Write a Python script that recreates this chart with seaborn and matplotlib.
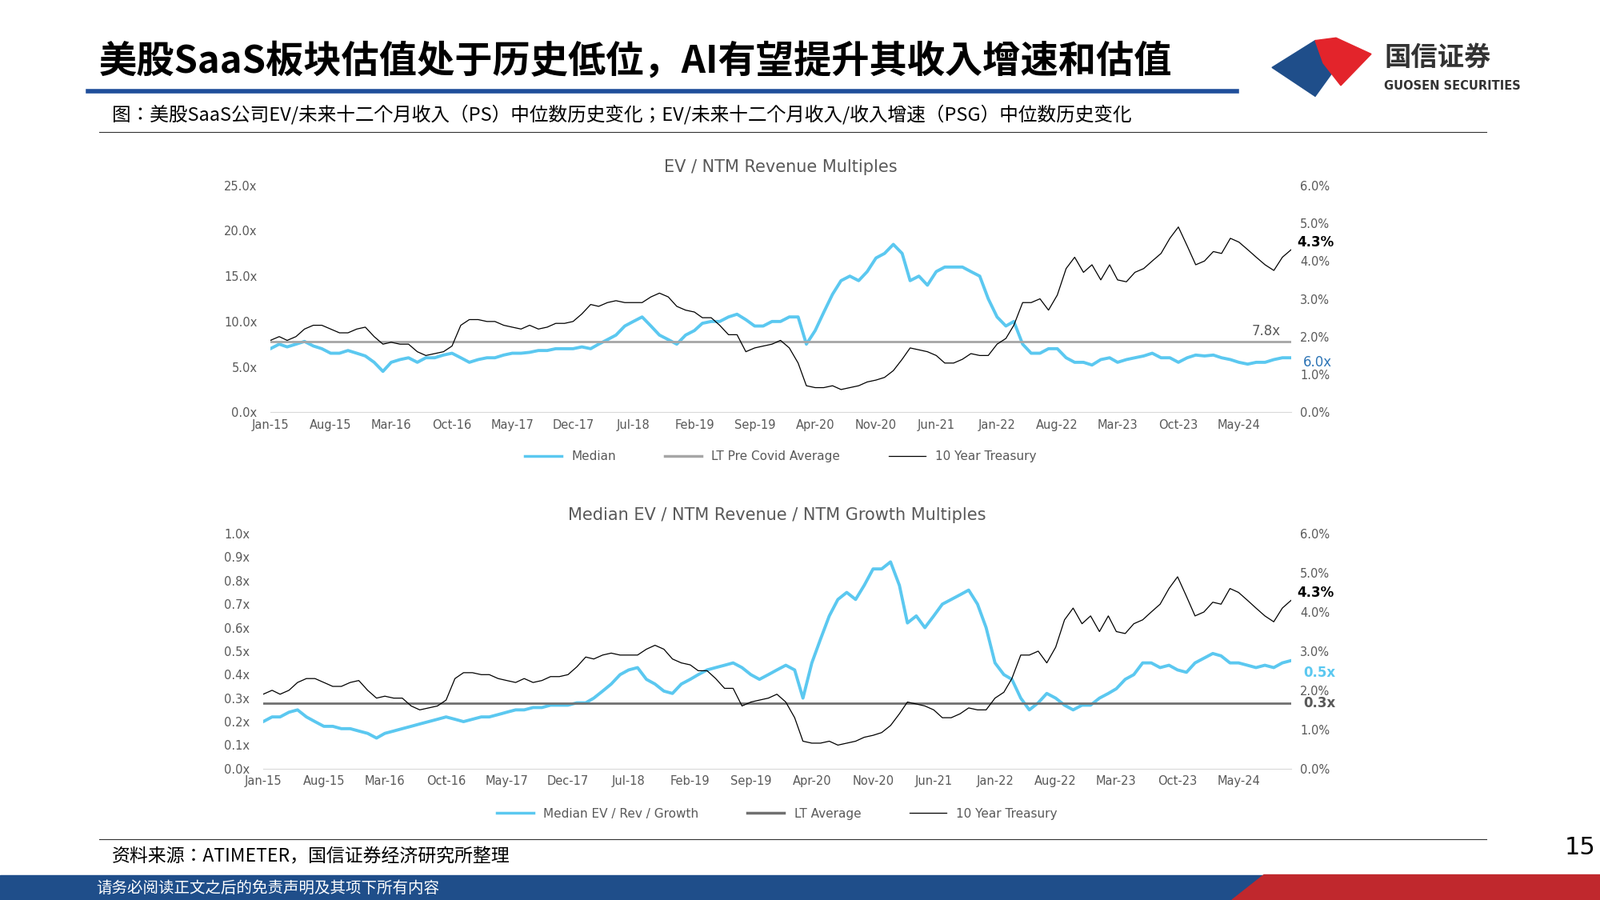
import numpy as np
import pandas as pd
import matplotlib.pyplot as plt
import seaborn as sns
from matplotlib.patches import Polygon, Rectangle
from matplotlib.lines import Line2D

CJK = ['Noto Sans CJK SC', 'Noto Sans CJK JP', 'Noto Sans CJK TC', 'DejaVu Sans']

# monthly data, Jan-15 .. Nov-24
median_ps = [7, 7.5, 7.2, 7.5, 7.8, 7.3, 7, 6.5, 6.5, 6.8, 6.5, 6.2,
             5.5, 4.5, 5.5, 5.8, 6, 5.5, 6, 6, 6.3, 6.5, 6, 5.5,
             5.8, 6, 6, 6.3, 6.5, 6.5, 6.6, 6.8, 6.8, 7, 7, 7,
             7.2, 7, 7.5, 8, 8.5, 9.5, 10, 10.5, 9.5, 8.5, 8, 7.5,
             8.5, 9, 9.8, 10, 10, 10.5, 10.8, 10.2, 9.5, 9.5, 10, 10,
             10.5, 10.5, 7.5, 9, 11, 13, 14.5, 15, 14.5, 15.5, 17, 17.5,
             18.5, 17.5, 14.5, 15, 14, 15.5, 16, 16, 16, 15.5, 15, 12.5,
             10.5, 9.5, 10, 7.5, 6.5, 6.5, 7, 7, 6, 5.5, 5.5, 5.2,
             5.8, 6, 5.5, 5.8, 6, 6.2, 6.5, 6, 6, 5.5, 6, 6.3,
             6.2, 6.3, 6, 5.8, 5.5, 5.3, 5.5, 5.5, 5.8, 6.0, 6.0]
treasury = [1.9, 2.0, 1.9, 2.0, 2.2, 2.3, 2.3, 2.2, 2.1, 2.1, 2.2, 2.25,
            2.0, 1.8, 1.85, 1.8, 1.8, 1.6, 1.5, 1.55, 1.6, 1.75, 2.3, 2.45,
            2.45, 2.4, 2.4, 2.3, 2.25, 2.2, 2.3, 2.2, 2.25, 2.35, 2.35, 2.4,
            2.6, 2.85, 2.8, 2.9, 2.95, 2.9, 2.9, 2.9, 3.05, 3.15, 3.05, 2.8,
            2.7, 2.65, 2.5, 2.5, 2.3, 2.05, 2.05, 1.6, 1.7, 1.75, 1.8, 1.9,
            1.7, 1.3, 0.7, 0.65, 0.65, 0.7, 0.6, 0.65, 0.7, 0.8, 0.85, 0.92,
            1.1, 1.4, 1.7, 1.65, 1.6, 1.5, 1.3, 1.3, 1.4, 1.55, 1.5, 1.5,
            1.8, 1.95, 2.3, 2.9, 2.9, 3.0, 2.7, 3.1, 3.8, 4.1, 3.7, 3.9,
            3.5, 3.9, 3.5, 3.45, 3.7, 3.8, 4.0, 4.2, 4.6, 4.9, 4.4, 3.9,
            4.0, 4.25, 4.2, 4.6, 4.5, 4.3, 4.1, 3.9, 3.75, 4.1, 4.3]
median_psg = [0.2, 0.22, 0.22, 0.24, 0.25, 0.22, 0.2, 0.18, 0.18, 0.17, 0.17, 0.16,
              0.15, 0.13, 0.15, 0.16, 0.17, 0.18, 0.19, 0.2, 0.21, 0.22, 0.21, 0.2,
              0.21, 0.22, 0.22, 0.23, 0.24, 0.25, 0.25, 0.26, 0.26, 0.27, 0.27, 0.27,
              0.28, 0.28, 0.3, 0.33, 0.36, 0.4, 0.42, 0.43, 0.38, 0.36, 0.33, 0.32,
              0.36, 0.38, 0.4, 0.42, 0.43, 0.44, 0.45, 0.43, 0.4, 0.38, 0.4, 0.42,
              0.44, 0.42, 0.3, 0.45, 0.55, 0.65, 0.72, 0.75, 0.72, 0.78, 0.85, 0.85,
              0.88, 0.78, 0.62, 0.65, 0.6, 0.65, 0.7, 0.72, 0.74, 0.76, 0.7, 0.6,
              0.45, 0.4, 0.38, 0.3, 0.25, 0.28, 0.32, 0.3, 0.27, 0.25, 0.27, 0.27,
              0.3, 0.32, 0.34, 0.38, 0.4, 0.45, 0.45, 0.43, 0.44, 0.42, 0.41, 0.45,
              0.47, 0.49, 0.48, 0.45, 0.45, 0.44, 0.43, 0.44, 0.43, 0.45, 0.46]
ps_avg = 7.8
psg_avg = 0.28
dates = pd.date_range('2015-01-01', periods=len(median_ps), freq='MS')
tick_labels = ['Jan-15', 'Aug-15', 'Mar-16', 'Oct-16', 'May-17', 'Dec-17', 'Jul-18', 'Feb-19',
               'Sep-19', 'Apr-20', 'Nov-20', 'Jun-21', 'Jan-22', 'Aug-22', 'Mar-23', 'Oct-23', 'May-24']

BLUE = '#5BC8F0'
GREY = '#595959'

fig = plt.figure(figsize=(20, 11.25), dpi=100)

# header
fig.text(0.062, 0.932, '美股SaaS板块估值处于历史低位，AI有望提升其收入增速和估值', family=CJK,
         fontsize=34, fontweight='bold', ha='left', va='center')
fig.add_artist(Line2D([0.055, 0.773], [0.899, 0.899], color='#1F4E9A', lw=4))
fig.text(0.07, 0.873, '图：美股SaaS公司EV/未来十二个月收入（PS）中位数历史变化；EV/未来十二个月收入/收入增速（PSG）中位数历史变化',
         family=CJK, fontsize=17, ha='left', va='center')
fig.add_artist(Line2D([0.062, 0.929], [0.853, 0.853], color='#333333', lw=0.8))
fig.add_artist(Polygon([[0.795, 0.925], [0.822, 0.955], [0.835, 0.925], [0.822, 0.893]], closed=True, color='#1F4E8A'))
fig.add_artist(Polygon([[0.822, 0.955], [0.835, 0.958], [0.857, 0.94], [0.838, 0.905], [0.827, 0.93]], closed=True, color='#E3242B'))
fig.text(0.865, 0.936, '国信证券', family=CJK, fontsize=24, fontweight='bold', color='#333333', va='center')
fig.text(0.865, 0.904, 'GUOSEN SECURITIES', fontsize=10.5, fontweight='bold', color='#333333', va='center')

# footer
fig.add_artist(Line2D([0.062, 0.929], [0.068, 0.068], color='#333333', lw=0.8))
fig.text(0.07, 0.048, '资料来源：ATIMETER，国信证券经济研究所整理', family=CJK, fontsize=16.5, va='center')
fig.text(0.978, 0.058, '15', fontsize=22, va='center')
fig.add_artist(Rectangle((0, 0), 1, 0.028, color='#1F4E8A'))
fig.add_artist(Polygon([[0.77, 0], [0.79, 0.028], [1, 0.028], [1, 0]], closed=True, color='#C0282D'))
fig.text(0.06, 0.013, '请务必阅读正文之后的免责声明及其项下所有内容', family=CJK, fontsize=14,
         color='white', va='center')


def panel(rect, vals, avg, ylim, tr_color_avg, title, labels, end_lbl, avg_lbl, second):
    ax = fig.add_axes(rect)
    sns.lineplot(x=dates, y=vals, ax=ax, color=BLUE, lw=2.8)
    ax.axhline(avg, color=tr_color_avg, lw=2)
    ax.set_ylim(*ylim)
    ax.set_xlim(dates[0], dates[-1])
    ax.set_yticks(np.linspace(ylim[0], ylim[1], 11 if second else 6))
    ax.set_yticklabels([f'{v:.1f}x' for v in ax.get_yticks()])
    ax.set_xticks(dates[::7][:len(tick_labels)])
    ax.set_xticklabels(tick_labels)
    ax2 = ax.twinx()
    sns.lineplot(x=dates, y=treasury, ax=ax2, color='black', lw=0.9)
    ax2.set_ylim(0, 6)
    ax2.set_yticks(range(7))
    ax2.set_yticklabels([f'{v:.1f}%' for v in range(7)])
    for a in (ax, ax2):
        for s in a.spines.values():
            s.set_visible(False)
        a.tick_params(length=0, labelsize=10.5, labelcolor=GREY, pad=12)
        a.set_ylabel('')
        a.set_xlabel('')
    ax.spines['bottom'].set_visible(True)
    ax.spines['bottom'].set_color('#D9D9D9')
    ax.tick_params(axis='x', pad=6)
    ax2.tick_params(axis='y', pad=8)
    ax.set_title(title, fontsize=15, color=GREY, pad=12)
    ax2.text(1.006, treasury[-1] + 0.2, '4.3%', transform=ax2.get_yaxis_transform(), fontsize=12,
             fontweight='bold', va='center')
    if second:
        ax2.text(1.012, 2.45, end_lbl, transform=ax2.get_yaxis_transform(), fontsize=12,
                 color=BLUE, fontweight='bold', va='center')
        ax.text(1.012, avg, avg_lbl, transform=ax.get_yaxis_transform(), fontsize=12,
                color=GREY, fontweight='bold', va='center')
    else:
        ax.text(1.012, vals[-1] - 0.5, end_lbl, transform=ax.get_yaxis_transform(), fontsize=12,
                color='#2E75B6', va='center')
        ax.text(0.99, avg + 0.3, avg_lbl, transform=ax.get_yaxis_transform(), fontsize=12,
                color=GREY, ha='right', va='bottom')
    handles = [Line2D([], [], color=BLUE, lw=2.5), Line2D([], [], color=tr_color_avg, lw=2.5),
               Line2D([], [], color='black', lw=0.9)]
    ax.legend(handles, labels, loc='upper center', bbox_to_anchor=(0.5, -0.12), ncol=3, frameon=False,
              fontsize=11, labelcolor=GREY, handlelength=3, columnspacing=4)
    return ax


panel([0.169, 0.542, 0.638, 0.252], median_ps, ps_avg, (0, 25), '#A6A6A6',
      'EV / NTM Revenue Multiples', ['Median', 'LT Pre Covid Average', '10 Year Treasury'],
      '6.0x', '7.8x', False)
panel([0.1645, 0.146, 0.6425, 0.261], median_psg, psg_avg, (0, 1.0), '#707070',
      'Median EV / NTM Revenue / NTM Growth Multiples',
      ['Median EV / Rev / Growth', 'LT Average', '10 Year Treasury'], '0.5x', '0.3x', True)

fig.savefig('out.png', dpi=100)
